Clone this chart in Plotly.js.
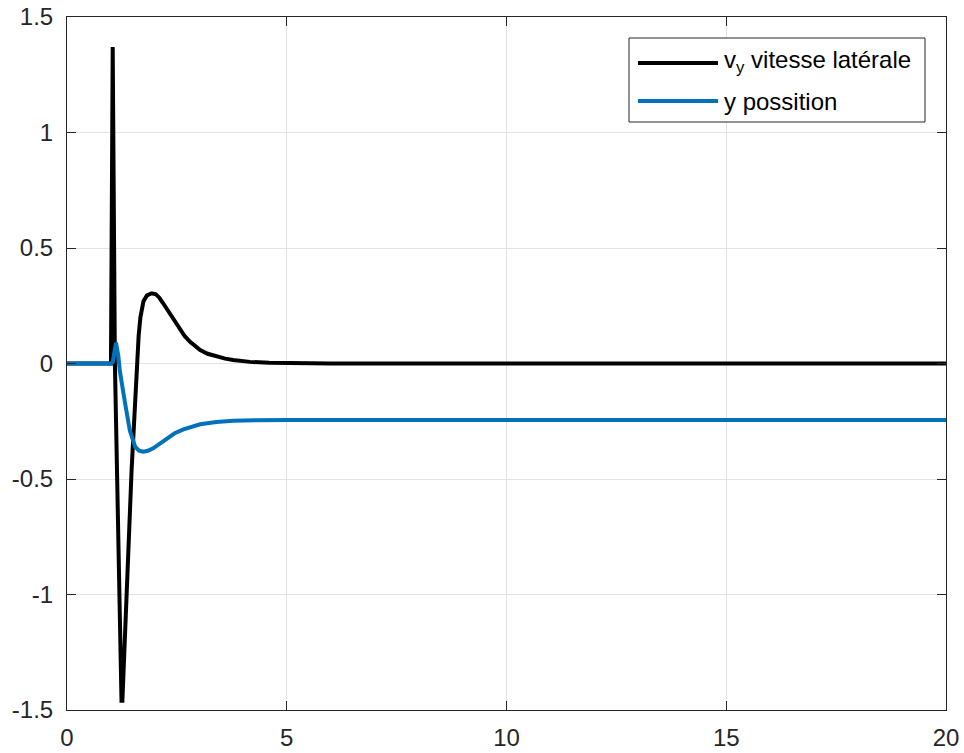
<!DOCTYPE html>
<html>
<head>
<meta charset="utf-8">
<script src="https://cdn.plot.ly/plotly-3.0.1.min.js"></script>
<style>html,body{margin:0;padding:0;background:#fff;}#chart{width:964px;height:753px;}</style>
</head>
<body>
<div id="chart"></div>
<script>
// lateral speed v_y
const tV = [0, 1.0, 1.04, 1.09, 1.24, 1.26, 1.47, 1.59, 1.63, 1.67, 1.74, 1.82, 1.93, 2.02, 2.1, 2.18, 2.27, 2.36, 2.45, 2.57, 2.68, 2.8, 2.92, 3.03, 3.2, 3.41, 3.6, 3.78, 4.16, 4.6, 5.0, 6.0, 20];
const vY = [0, 0, 1.37, 0.0, -1.46, -1.46, -0.46, 0.0, 0.12, 0.2, 0.27, 0.295, 0.304, 0.3, 0.285, 0.263, 0.237, 0.208, 0.18, 0.145, 0.118, 0.094, 0.074, 0.058, 0.042, 0.03, 0.021, 0.015, 0.007, 0.003, 0.001, 0, 0];
// lateral position y
const tY = [0, 1.0, 1.04, 1.08, 1.115, 1.17, 1.2, 1.32, 1.43, 1.55, 1.64, 1.74, 1.84, 1.96, 2.1, 2.27, 2.45, 2.65, 2.85, 3.03, 3.4, 3.78, 4.3, 5.0, 20];
const posY = [0, 0, 0.005, 0.06, 0.09, 0.03, -0.03, -0.17, -0.29, -0.36, -0.377, -0.382, -0.378, -0.367, -0.347, -0.324, -0.302, -0.285, -0.272, -0.263, -0.253, -0.248, -0.246, -0.245, -0.245];

const xTicks = [0, 5, 10, 15, 20];
const xTickText = ['0', '5', '10', '15', '20'];
const yTicks = [-1.5, -1, -0.5, 0, 0.5, 1, 1.5];
const yTickText = ['-1.5', '-1', '-0.5', '0', '0.5', '1', '1.5'];
const seriesNames = ['v<sub>y</sub> vitesse latérale', 'y possition'];
const seriesColors = ['#000000', '#0072BD'];

const traces = [
  {x: tV, y: vY, mode: 'lines', name: seriesNames[0], line: {color: seriesColors[0], width: 4, shape: 'linear'}},
  {x: tY, y: posY, mode: 'lines', name: seriesNames[1], line: {color: seriesColors[1], width: 4, shape: 'linear'}}
];

const font = {family: '"Liberation Sans", Arial, Helvetica, sans-serif', size: 24, color: '#262626'};
const axisCommon = {
  showline: true, linecolor: '#262626', linewidth: 1, mirror: 'ticks',
  ticks: 'inside', ticklen: 9, tickcolor: '#262626', tickwidth: 1,
  showgrid: true, gridcolor: '#e3e3e3', gridwidth: 1, zeroline: false,
  tickfont: font, tickmode: 'array'
};

// manual legend (MATLAB style with long line samples)
const lx0 = (629 - 67) / 879, lx1 = (925 - 67) / 879;
const ly0 = (710 - 122) / 693, ly1 = (710 - 38) / 693;
const lineY = [(710 - 63) / 693, (710 - 101) / 693];
const textY = [(710 - 61) / 693, (710 - 101) / 693];
const sx0 = (638 - 67) / 879, sx1 = (718 - 67) / 879, tx = (722 - 67) / 879;

const shapes = [
  {type: 'rect', xref: 'paper', yref: 'paper', x0: lx0, x1: lx1, y0: ly0, y1: ly1,
   line: {color: '#262626', width: 1}, fillcolor: '#ffffff', layer: 'above'}
];
const annotations = [];
seriesNames.forEach((n, i) => {
  shapes.push({type: 'line', xref: 'paper', yref: 'paper', x0: sx0, x1: sx1, y0: lineY[i], y1: lineY[i],
    line: {color: seriesColors[i], width: 4}, layer: 'above'});
  annotations.push({xref: 'paper', yref: 'paper', x: tx, y: textY[i], xanchor: 'left', yanchor: 'middle',
    text: n, showarrow: false, font: {family: font.family, size: 24, color: '#000000'}});
});

const layout = {
  width: 964, height: 753,
  margin: {l: 67, r: 18, t: 17, b: 43},
  paper_bgcolor: '#ffffff', plot_bgcolor: '#ffffff',
  showlegend: false,
  font: font,
  xaxis: Object.assign({}, axisCommon, {range: [0, 20], tickvals: xTicks, ticktext: xTickText, ticklabelstandoff: 6}),
  yaxis: Object.assign({}, axisCommon, {range: [-1.5, 1.5], tickvals: yTicks, ticktext: yTickText, ticklabelstandoff: 8}),
  shapes: shapes,
  annotations: annotations
};

Plotly.newPlot('chart', traces, layout, {displayModeBar: false, staticPlot: true});
</script>
</body>
</html>
